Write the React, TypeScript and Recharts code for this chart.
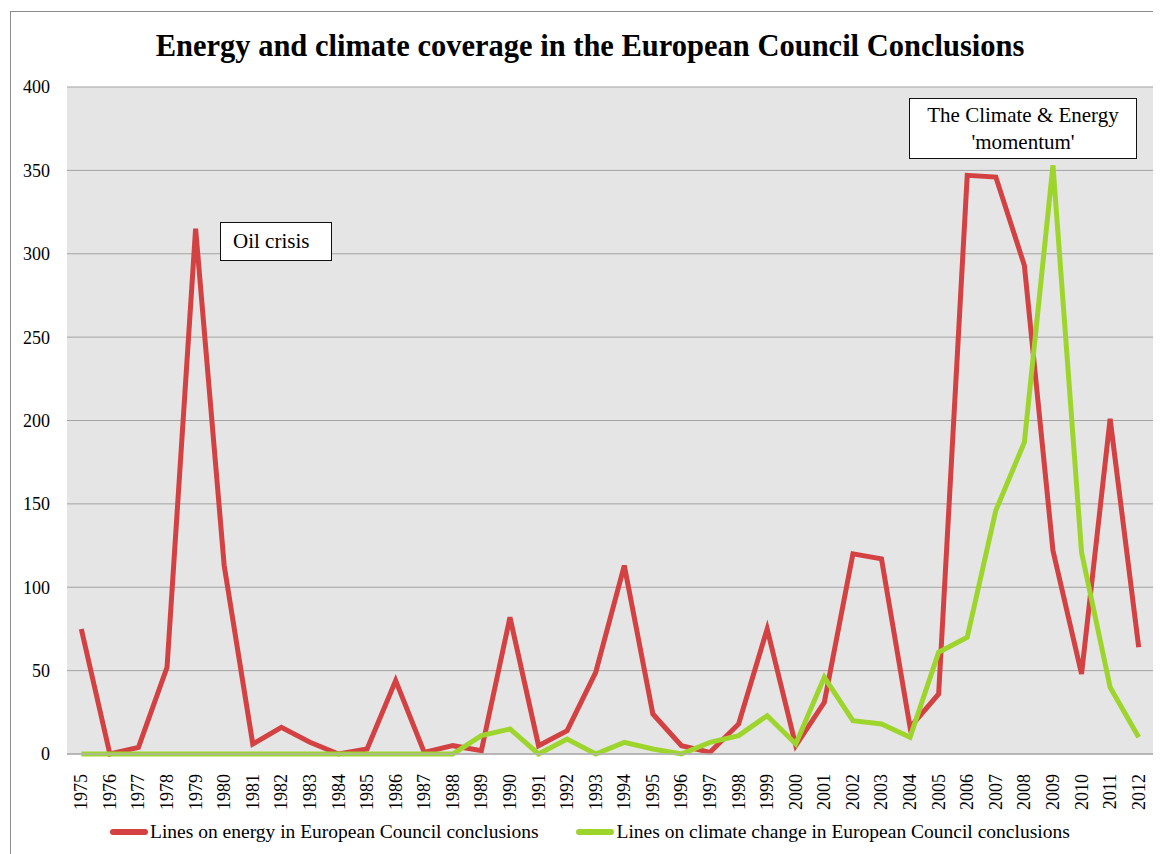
import React from 'react';
import { LineChart, Line, XAxis, YAxis, CartesianGrid, Legend } from 'recharts';

const years = ['1975','1976','1977','1978','1979','1980','1981','1982','1983','1984','1985','1986','1987','1988','1989','1990','1991','1992','1993','1994','1995','1996','1997','1998','1999','2000','2001','2002','2003','2004','2005','2006','2007','2008','2009','2010','2011','2012'];
const energyLines = [75,0,4,52,315,113,6,16,7,0,3,44,1,5,2,82,5,14,49,113,24,5,1,18,75,5,31,120,117,16,36,347,346,293,122,48,201,64];
const climateLines = [0,0,0,0,0,0,0,0,0,0,0,0,0,0,11,15,0,9,0,7,3,0,7,11,23,6,46,20,18,10,61,70,146,187,353,121,40,10];
const yTicks = [0,50,100,150,200,250,300,350,400];

const seriesNames = {
  energy: 'Lines on energy in European Council conclusions',
  climate: 'Lines on climate change in European Council conclusions',
};
const titleText = 'Energy and climate coverage in the European Council Conclusions';
const oilLabel = 'Oil crisis';
const momentumLabel = ["The Climate & Energy", "'momentum'"];

const RED = '#d44142';
const GREEN = '#9dd52d';
const FONT = '"Liberation Serif", "Times New Roman", serif';

const data = years.map((y, i) => ({ year: y, energy: energyLines[i], climate: climateLines[i] }));

const XTick = (props: any) => {
  const { x, y, payload } = props;
  return (
    <text
      x={0}
      y={0}
      transform={`translate(${x + 6},${y + 12}) rotate(-90)`}
      textAnchor="end"
      fontSize={18}
      fontFamily={FONT}
      fill="#000"
    >
      {payload.value}
    </text>
  );
};

const LegendContent = () => {
  const item = (color: string, label: string, mr: number) => (
    <div style={{ display: 'flex', alignItems: 'center', marginRight: mr }}>
      <div style={{ width: 38, height: 6, borderRadius: 3, background: color, marginRight: 2 }} />
      <span style={{ fontFamily: FONT, fontSize: 19.5, color: '#000', whiteSpace: 'nowrap' }}>{label}</span>
    </div>
  );
  return (
    <div style={{ display: 'flex', justifyContent: 'flex-start', paddingLeft: 102, marginTop: 9 }}>
      {item(RED, seriesNames.energy, 38)}
      {item(GREEN, seriesNames.climate, 0)}
    </div>
  );
};

export default function App() {
  return (
    <div style={{ position: 'relative', width: 1153, height: 846 }}>
      <div
        style={{
          position: 'absolute',
          left: 2,
          top: 3,
          width: 1160,
          height: 860,
          border: '1px solid #8c8c8c',
          boxSizing: 'border-box',
        }}
      />
      <LineChart
        width={1153}
        height={846}
        data={data}
        margin={{ top: 79, right: 8, bottom: 0, left: 0 }}
      >
        <CartesianGrid vertical={false} stroke="#a3a3a3" fill="#e5e5e5" />
        <XAxis
          dataKey="year"
          interval={0}
          tick={<XTick />}
          tickLine={false}
          axisLine={{ stroke: '#b0b0b0', strokeWidth: 1.5 }}
          padding={{ left: 14.3, right: 14.3 }}
          height={58}
        />
        <YAxis
          width={59}
          domain={[0, 400]}
          ticks={yTicks}
          tickLine={false}
          axisLine={false}
          tickSize={0}
          tickMargin={17}
          tick={{ fontSize: 18, fontFamily: FONT, fill: '#000' }}
        />
        <Legend verticalAlign="bottom" height={42} content={<LegendContent />} />
        <Line
          type="linear"
          dataKey="energy"
          name={seriesNames.energy}
          stroke={RED}
          strokeWidth={5}
          dot={false}
          isAnimationActive={false}
        />
        <Line
          type="linear"
          dataKey="climate"
          name={seriesNames.climate}
          stroke={GREEN}
          strokeWidth={5}
          dot={false}
          isAnimationActive={false}
        />
      </LineChart>
      <div
        style={{
          position: 'absolute',
          left: 2,
          top: 21,
          width: 1160,
          textAlign: 'center',
          fontFamily: FONT,
          fontWeight: 'bold',
          fontSize: 30.5,
          color: '#000',
          lineHeight: '34px',
        }}
      >
        {titleText}
      </div>
      <div
        style={{
          position: 'absolute',
          left: 212,
          top: 214,
          width: 112,
          height: 39,
          boxSizing: 'border-box',
          border: '1.5px solid #111',
          background: '#fff',
          fontFamily: FONT,
          fontSize: 21,
          lineHeight: '36px',
          paddingLeft: 12,
          whiteSpace: 'nowrap',
        }}
      >
        {oilLabel}
      </div>
      <div
        style={{
          position: 'absolute',
          left: 901,
          top: 90,
          width: 228,
          height: 61,
          boxSizing: 'border-box',
          border: '1.5px solid #111',
          background: '#fff',
          fontFamily: FONT,
          fontSize: 21,
          lineHeight: '27px',
          textAlign: 'center',
          paddingTop: 3,
          whiteSpace: 'nowrap',
        }}
      >
        <div>{momentumLabel[0]}</div>
        <div>{momentumLabel[1]}</div>
      </div>
    </div>
  );
}
